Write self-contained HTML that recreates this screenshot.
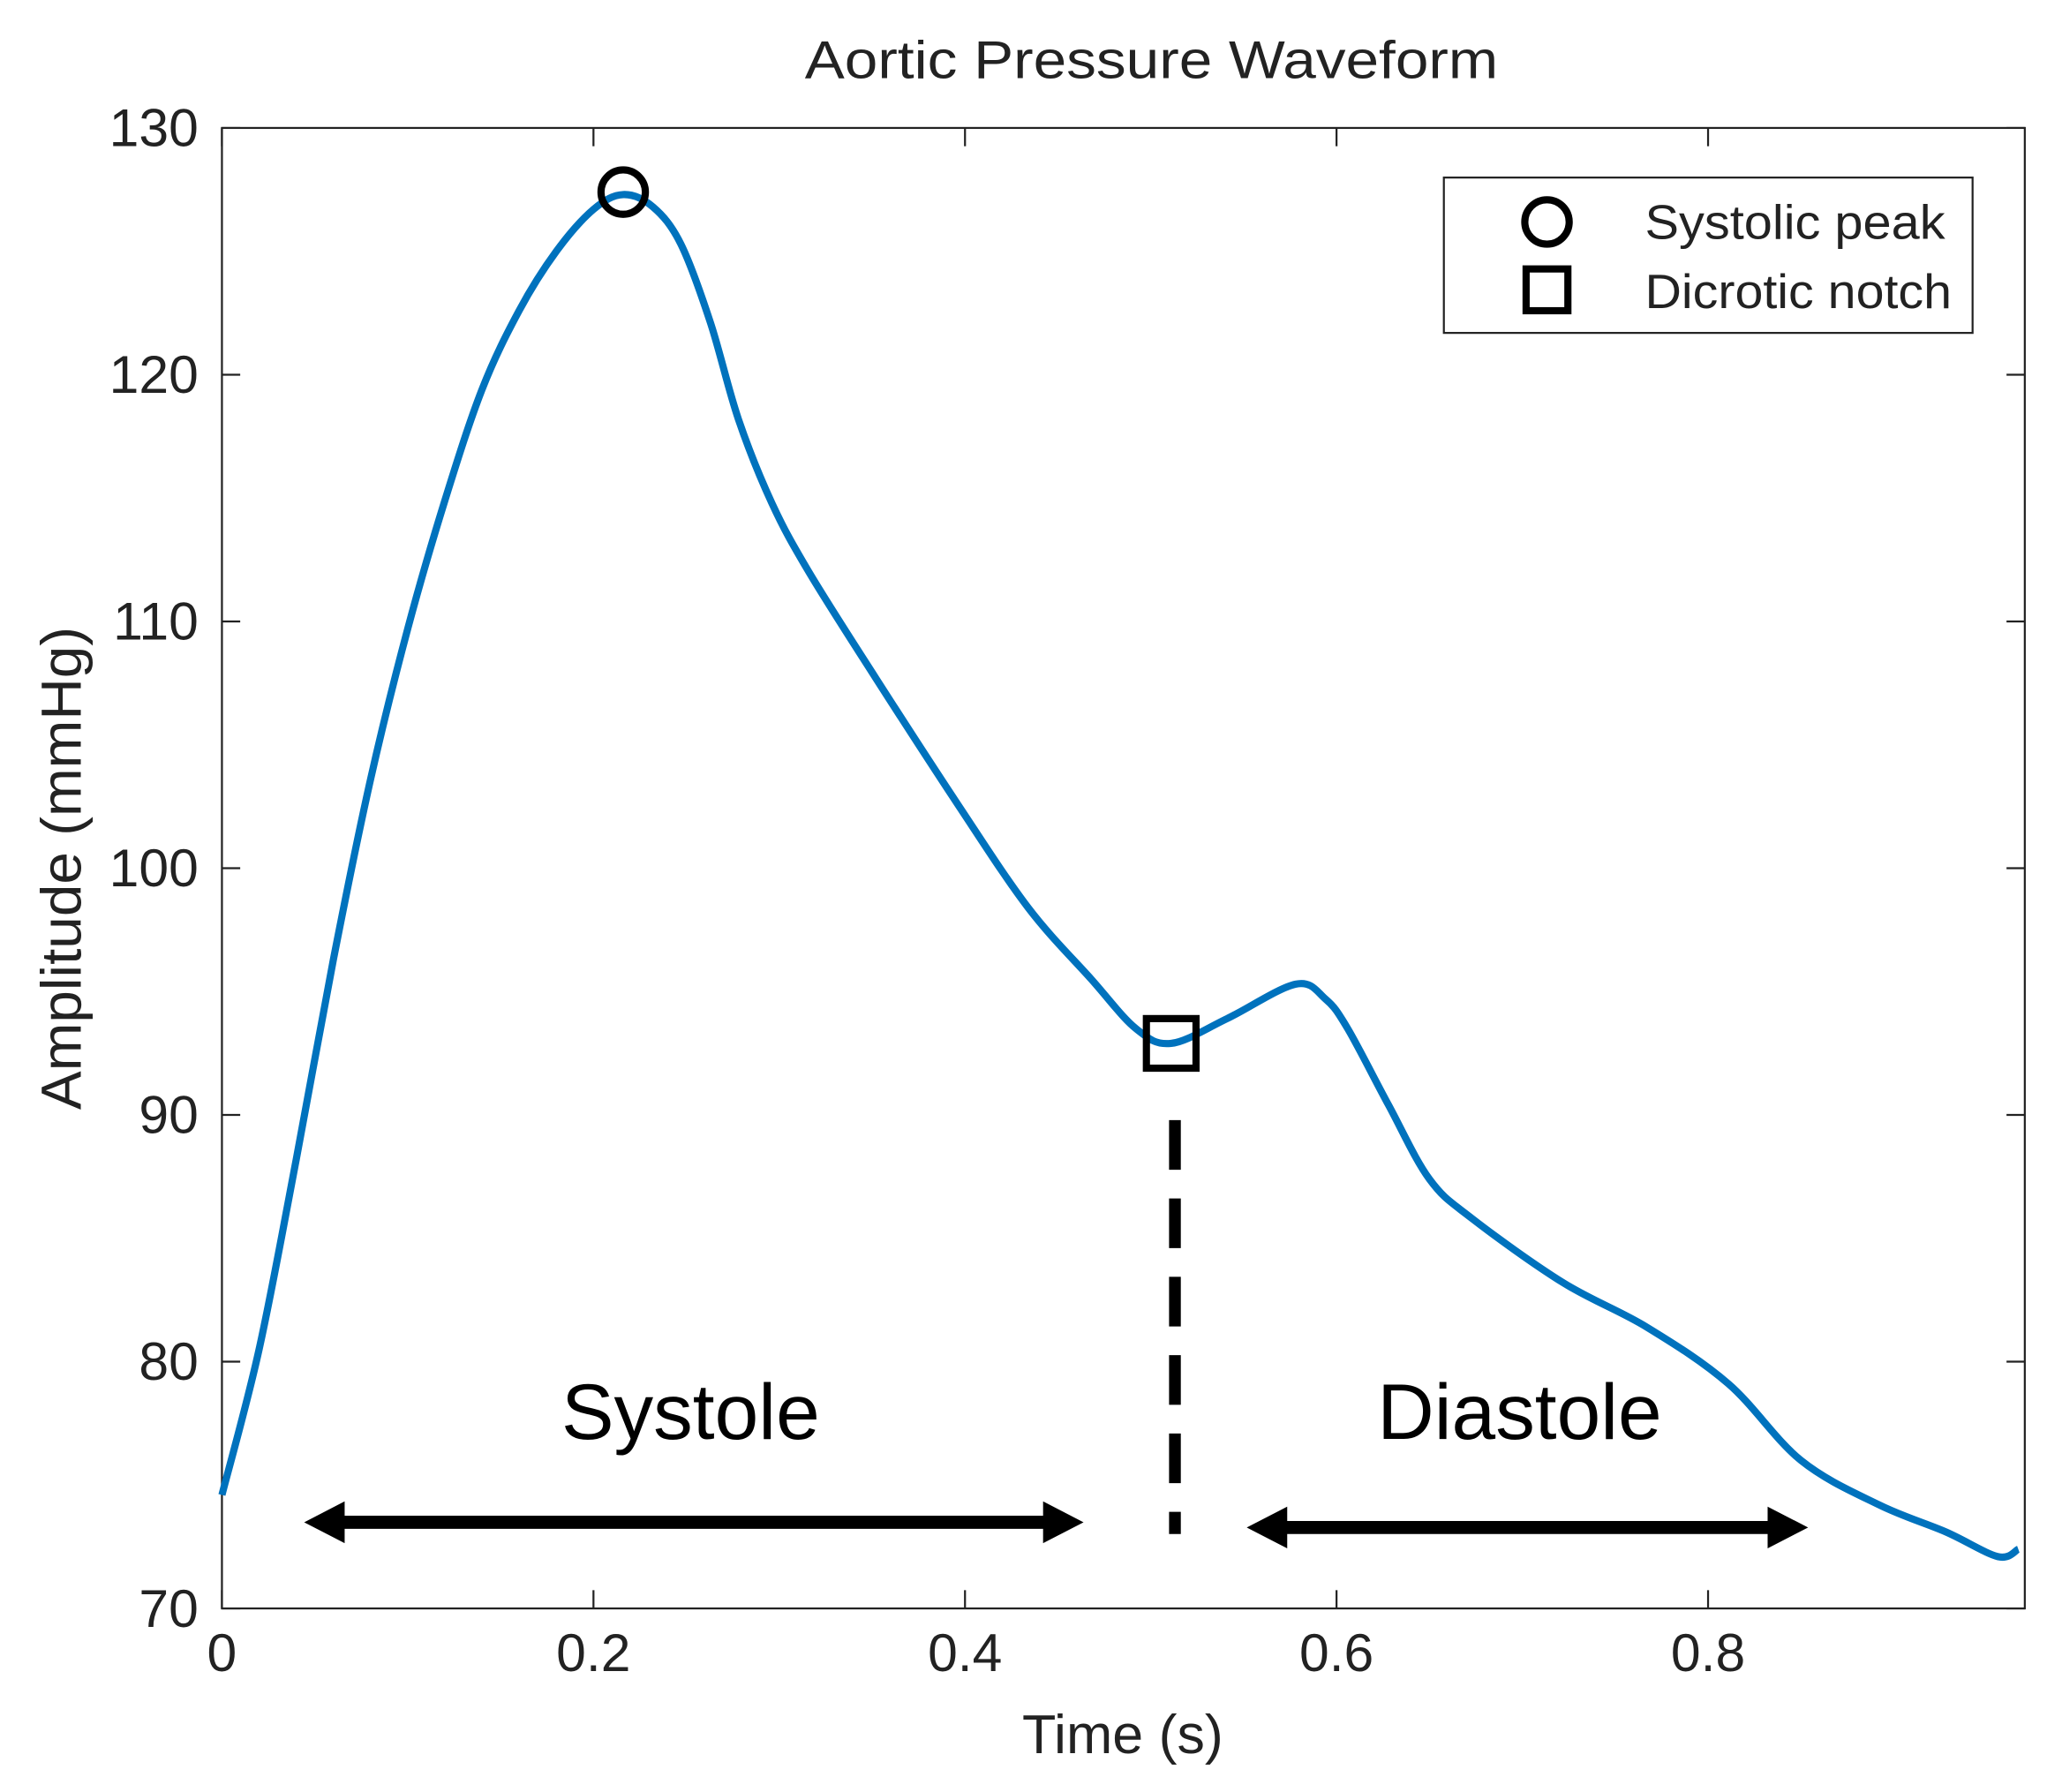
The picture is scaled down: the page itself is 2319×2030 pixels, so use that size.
<!DOCTYPE html>
<html><head><meta charset="utf-8"><style>
html,body{margin:0;padding:0;background:#fff}
svg{display:block}
text{font-family:"Liberation Sans",Arial,sans-serif;fill:#222}
</style></head><body>
<svg id="chart" width="2319" height="2030" viewBox="0 0 1568 1372.6" xmlns="http://www.w3.org/2000/svg">
<text x="882" y="60" text-anchor="middle" font-size="41" textLength="531" lengthAdjust="spacingAndGlyphs">Aortic Pressure Waveform</text>
<g id="axes"></g>
<path id="curve" fill="none" stroke="#0072BD" stroke-width="5.5" stroke-linejoin="round"/>
<g id="marks"></g>
<text transform="translate(62,665) rotate(-90)" text-anchor="middle" font-size="43" textLength="370" lengthAdjust="spacingAndGlyphs">Amplitude (mmHg)</text>
<text x="860" y="1343" text-anchor="middle" font-size="42" textLength="154" lengthAdjust="spacingAndGlyphs">Time (s)</text>
<text x="529" y="1102" text-anchor="middle" font-size="60" textLength="198" lengthAdjust="spacingAndGlyphs" style="fill:#000">Systole</text>
<text x="1164" y="1102" text-anchor="middle" font-size="60" textLength="218" lengthAdjust="spacingAndGlyphs" style="fill:#000">Diastole</text>
<g>
<line x1="255" y1="1166" x2="808" y2="1166" stroke="#000" stroke-width="10"/>
<polygon points="233,1166 264,1150 264,1182" fill="#000"/>
<polygon points="830,1166 799,1150 799,1182" fill="#000"/>
</g>
<g>
<line x1="977" y1="1170" x2="1363" y2="1170" stroke="#000" stroke-width="10"/>
<polygon points="955,1170 986,1154 986,1186" fill="#000"/>
<polygon points="1385,1170 1354,1154 1354,1186" fill="#000"/>
</g>
<line x1="900" y1="858" x2="900" y2="1175" stroke="#000" stroke-width="9" stroke-dasharray="38,22"/>
<g>
<rect x="1106" y="136" width="405" height="119" fill="#fff" stroke="#222" stroke-width="1.5"/>
<circle cx="1185" cy="170" r="17" fill="none" stroke="#000" stroke-width="5.5"/>
<rect x="1169" y="206" width="32" height="32" fill="none" stroke="#000" stroke-width="5.5"/>
<text x="1260" y="183" font-size="37" textLength="230" lengthAdjust="spacingAndGlyphs">Systolic peak</text>
<text x="1260" y="236" font-size="37" textLength="235" lengthAdjust="spacingAndGlyphs">Dicrotic notch</text>
</g>
</svg>
<script>
const times=[0,0.02,0.04,0.06,0.08,0.1,0.12,0.14,0.16,0.18,0.2,0.216,0.232,0.247,0.263,0.278,0.296,0.316,0.352,0.396,0.434,0.468,0.492,0.511,0.541,0.578,0.594,0.606,0.628,0.65,0.673,0.722,0.767,0.811,0.85,0.892,0.928,0.956,0.967];
const pressures=[74.6,80.5,88.2,96.3,103.6,109.7,114.9,119.4,122.6,125.0,126.7,127.3,126.8,125.3,122.1,118.2,114.8,112.0,107.7,102.6,98.4,95.5,93.5,92.9,93.9,95.3,94.7,93.5,90.4,87.4,85.8,83.2,81.4,79.1,76.0,74.2,73.1,72.1,72.4];
const peakPoint=[0.216,127.4];
const notchPoint=[0.511,92.9];
const xTicks=[0,0.2,0.4,0.6,0.8];
const xTickLabels=["0","0.2","0.4","0.6","0.8"];
const yTicks=[70,80,90,100,110,120,130];
const yTickLabels=["70","80","90","100","110","120","130"];
const L=170,R=1551,T=98,B=1232,XMAX=0.9705,YMIN=70,YMAX=130;
const xs=t=>L+(t/XMAX)*(R-L);
const ys=v=>B-(v-YMIN)/(YMAX-YMIN)*(B-T);
const NS="http://www.w3.org/2000/svg";
const axes=document.getElementById('axes');
function mk(tag,attrs,parent){const e=document.createElementNS(NS,tag);for(const k in attrs)e.setAttribute(k,attrs[k]);parent.appendChild(e);return e;}
const frame=mk('rect',{x:L,y:T,width:R-L,height:B-T,fill:'none',stroke:'#222','stroke-width':1.5},axes);


xTicks.forEach((t,i)=>{const x=xs(t);
 const a=mk('line',{x1:x,y1:B,x2:x,y2:B-14,stroke:'#222','stroke-width':1.5},axes);
 
 
 const b=mk('line',{x1:x,y1:T,x2:x,y2:T+14,stroke:'#222','stroke-width':1.5},axes);
 
 
 const tx=mk('text',{x:x,y:B+48,'text-anchor':'middle','font-size':41},axes);tx.textContent=xTickLabels[i];
 
 
});
yTicks.forEach((v,i)=>{const y=ys(v);
 const a=mk('line',{x1:L,y1:y,x2:L+14,y2:y,stroke:'#222','stroke-width':1.5},axes);
 
 
 const b=mk('line',{x1:R,y1:y,x2:R-14,y2:y,stroke:'#222','stroke-width':1.5},axes);
 
 
 const tx=mk('text',{x:L-18,y:y+14,'text-anchor':'end','font-size':41},axes);tx.textContent=yTickLabels[i];
 
 
});
const P=times.map((t,i)=>[xs(t),ys(pressures[i])]);
let d='M'+P[0][0]+','+P[0][1];
for(let i=0;i<P.length-1;i++){const p0=P[i-1]||P[i],p1=P[i],p2=P[i+1],p3=P[i+2]||P[i+1];
 const c1=[p1[0]+(p2[0]-p0[0])/6,p1[1]+(p2[1]-p0[1])/6],c2=[p2[0]-(p3[0]-p1[0])/6,p2[1]-(p3[1]-p1[1])/6];
 d+=' C'+c1+' '+c2+' '+p2;}
document.getElementById('curve').setAttribute('d',d);
const marks=document.getElementById('marks');
const c=mk('circle',{cx:xs(peakPoint[0]),cy:ys(peakPoint[1]),r:17,fill:'none',stroke:'#000','stroke-width':5.5},marks);


const s=mk('rect',{x:xs(notchPoint[0])-19,y:ys(notchPoint[1])-19,width:38,height:38,fill:'none',stroke:'#000','stroke-width':5.5},marks);


</script>
</body></html>
